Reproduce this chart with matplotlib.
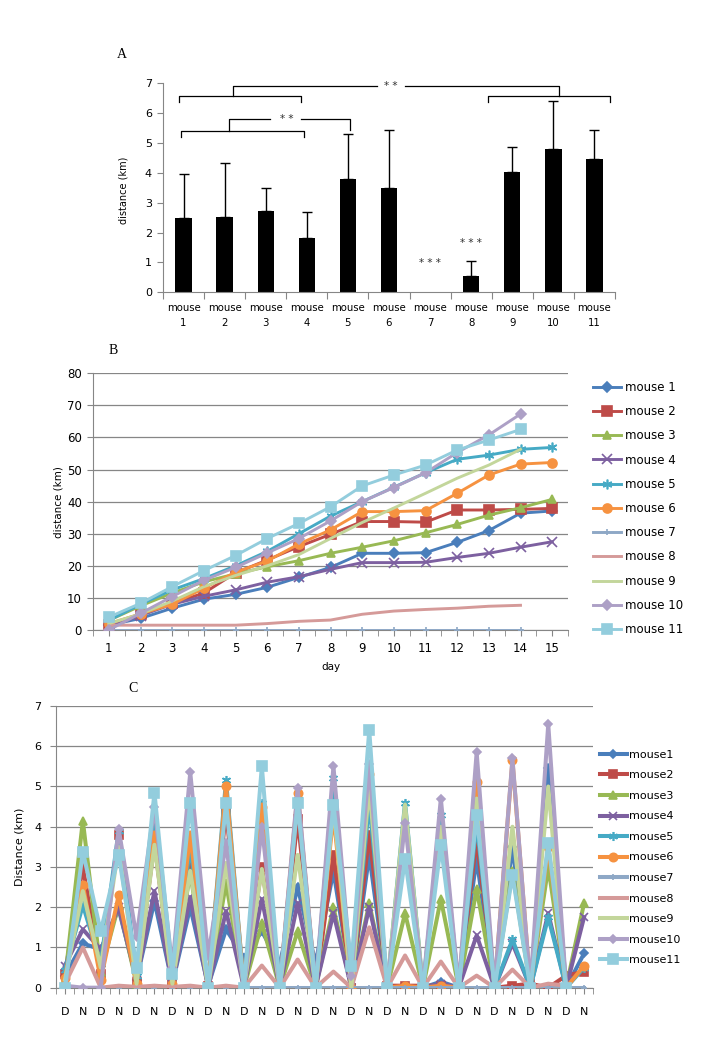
import numpy as np
import matplotlib
matplotlib.use("Agg")
import matplotlib.pyplot as plt

plt.rcParams['font.family'] = ['DejaVu Sans']
plt.rcParams['font.size'] = 8

# ---------------- data ----------------
# Panel A: mean daily distance per mouse with (upper) error
labels_A = ['mouse\n1', 'mouse\n2', 'mouse\n3', 'mouse\n4', 'mouse\n5', 'mouse\n6',
            'mouse\n7', 'mouse\n8', 'mouse\n9', 'mouse\n10', 'mouse\n11']
mean_A = [2.50, 2.53, 2.73, 1.82, 3.80, 3.50, 0.00, 0.55, 4.04, 4.80, 4.47]
err_A = [1.47, 1.80, 0.77, 0.88, 1.50, 1.93, 0.00, 0.49, 0.83, 1.60, 0.96]

# Panel B: cumulative distance by day
days_B = list(range(1, 16))
b_mouse1 = [1.5, 3.6, 6.8, 9.6, 11.1, 13.3, 16.4, 19.5, 23.9, 23.9, 24.1, 27.3, 31.0, 36.4, 37.1]
b_mouse2 = [1.5, 5.0, 8.3, 11.5, 17.8, 21.8, 26.0, 29.8, 33.8, 33.8, 33.6, 37.4, 37.4, 37.6, 37.9]
b_mouse3 = [3.0, 7.5, 11.5, 15.0, 17.5, 19.7, 21.6, 23.9, 25.8, 27.8, 30.3, 32.9, 35.8, 38.1, 40.7]
b_mouse4 = [1.0, 4.5, 8.0, 10.5, 12.5, 14.9, 16.6, 18.9, 21.0, 21.0, 21.1, 22.6, 23.9, 25.8, 27.5]
b_mouse5 = [3.0, 8.0, 12.5, 16.0, 20.0, 24.5, 30.0, 35.5, 40.0, 44.5, 49.0, 53.2, 54.5, 56.3, 56.9]
b_mouse6 = [2.0, 5.0, 8.0, 13.0, 18.0, 21.5, 26.8, 31.2, 36.9, 36.9, 37.2, 42.6, 48.3, 51.7, 52.2]
b_mouse7 = [0, 0, 0, 0, 0, 0, 0, 0, 0, 0, 0, 0, 0, 0]
b_mouse8 = [1.5, 1.5, 1.5, 1.5, 1.5, 2.0, 2.7, 3.1, 4.9, 5.9, 6.4, 6.8, 7.4, 7.7]
b_mouse9 = [2.0, 5.0, 9.0, 13.5, 17.0, 20.0, 23.5, 28.5, 33.5, 38.0, 42.6, 47.3, 51.4, 56.3]
b_mouse10 = [0.0, 5.2, 10.4, 15.5, 19.5, 24.0, 28.5, 34.0, 40.0, 44.4, 49.0, 55.3, 60.8, 67.3]
b_mouse11 = [4.0, 8.3, 13.5, 18.5, 23.2, 28.5, 33.2, 38.4, 44.9, 48.3, 51.4, 56.1, 59.2, 62.5]

# Panel C: day (D) / night (N) distance
labels_C = ['D', 'N'] * 15
nan = np.nan
c_mouse1 = [0.30, 1.10, 0.95, 1.95, 0.20, 2.15, 0.10, 2.00, 0.05, 1.45, 0.75, 1.40, 0.60, 2.50, 0.60,
            2.90, 0.10, 3.30, 0.00, 0.00, 0.00, 0.15, 0.00, 3.20, 0.00, 3.50, 0.00, 5.45, 0.00, 0.85]
c_mouse2 = [0.35, 3.00, 0.35, 3.80, 0.15, 3.60, 0.10, 3.25, 0.05, 4.40, 0.00, 3.00, 0.00, 4.20, 0.00,
            3.30, 0.00, 3.80, 0.05, 0.05, 0.05, 0.05, 0.00, 3.70, 0.00, 0.05, 0.10, 0.00, 0.30, 0.40]
c_mouse3 = [0.20, 4.15, 0.40, 2.05, 0.10, 3.70, 0.15, 2.85, 0.00, 2.60, 0.00, 1.60, 0.00, 1.40, 0.00,
            2.00, 0.00, 2.10, 0.00, 1.85, 0.00, 2.20, 0.00, 2.45, 0.00, 2.90, 0.00, 3.00, 0.00, 2.10]
c_mouse4 = [0.55, 1.45, 0.95, 2.00, 0.20, 2.40, 0.10, 2.25, 0.00, 1.90, 0.00, 2.20, 0.00, 2.10, 0.00,
            1.85, 0.00, 2.00, 0.00, 0.00, 0.00, 0.10, 0.00, 1.30, 0.00, 1.10, 0.00, 1.85, 0.00, 1.75]
c_mouse5 = [0.45, 2.05, 0.60, 3.90, 0.30, 4.00, 0.20, 3.50, 0.00, 5.15, 0.00, 4.60, 0.00, 4.70, 0.00,
            5.20, 0.00, 4.60, 0.00, 4.60, 0.00, 4.30, 0.00, 4.10, 0.00, 1.20, 0.00, 1.75, 0.00, 0.50]
c_mouse6 = [0.25, 2.55, 0.20, 2.30, 0.10, 3.80, 0.10, 3.80, 0.00, 5.00, 0.00, 4.50, 0.00, 4.85, 0.00,
            4.30, 0.00, 5.30, 0.00, 0.05, 0.00, 0.05, 0.00, 5.10, 0.00, 5.65, 0.00, 3.50, 0.00, 0.55]
c_mouse7 = [0.0] * 30
c_mouse8 = [0.10, 1.00, 0.00, 0.05, 0.02, 0.05, 0.02, 0.05, 0.00, 0.05, 0.00, 0.55, 0.00, 0.70, 0.00,
            0.40, 0.00, 1.50, 0.00, 0.80, 0.00, 0.65, 0.00, 0.30, 0.00, 0.45, 0.00, 0.10, 0.05, nan]
c_mouse9 = [0.20, 2.40, 0.50, 3.50, 0.10, 3.55, 0.10, 2.90, 0.00, 3.10, 0.00, 2.95, 0.00, 3.30, 0.00,
            4.50, 0.00, 5.00, 0.00, 4.55, 0.00, 4.00, 0.00, 4.70, 0.00, 4.00, 0.00, 5.00, 0.00, nan]
c_mouse10 = [0.05, 0.00, 0.00, 3.95, 1.25, 4.50, 0.50, 5.35, 0.80, 3.60, 0.00, 4.00, 0.00, 4.95, 0.00,
             5.50, 0.30, 5.55, 0.00, 4.10, 0.00, 4.70, 0.00, 5.85, 0.00, 5.70, 0.00, 6.55, 0.00, nan]
c_mouse11 = [0.00, 3.38, 1.40, 3.30, 0.50, 4.85, 0.35, 4.60, 0.00, 4.60, 0.00, 5.50, 0.00, 4.60, 0.00,
             4.55, 0.55, 6.40, 0.00, 3.20, 0.00, 3.55, 0.00, 4.30, 0.00, 2.80, 0.00, 3.60, 0.00, nan]

series_B = [b_mouse1, b_mouse2, b_mouse3, b_mouse4, b_mouse5, b_mouse6,
            b_mouse7, b_mouse8, b_mouse9, b_mouse10, b_mouse11]
series_C = [c_mouse1, c_mouse2, c_mouse3, c_mouse4, c_mouse5, c_mouse6,
            c_mouse7, c_mouse8, c_mouse9, c_mouse10, c_mouse11]
names_B = ['mouse %d' % i for i in range(1, 12)]
names_C = ['mouse%d' % i for i in range(1, 12)]

# ---------------- styles ----------------
colors = ['#4A7EBB', '#BE4B48', '#98B954', '#7D60A0', '#46AAC5', '#F69240',
          '#8EA8C6', '#D59A99', '#C3D69B', '#ADA0C6', '#93CDDD']
markers = ['D', 's', '^', 'x', (6, 2, 0), 'o', '+', 'None', 'None', 'D', 's']
msize_B = [5, 6.5, 6, 6.5, 7, 6.5, 4, 0, 0, 5, 7]
msize_C = [4.5, 6, 5.5, 6, 6.5, 6, 4, 0, 0, 4.5, 6.5]

W, H = 720, 1040
fig = plt.figure(figsize=(W / 100, H / 100), dpi=100)
grey = '#868686'

def fx(px):
    return px / W

def fy(py):
    return 1 - py / H

# ---------------- Panel A ----------------
axA = fig.add_axes([fx(163), fy(292.3), fx(615) - fx(163), fy(83.3) - fy(292.3)])
xA = np.arange(len(mean_A))
axA.bar(xA, mean_A, width=0.4, color='black', zorder=2)
m = np.array(err_A) > 0
axA.errorbar(xA[m], np.array(mean_A)[m], yerr=[np.zeros(m.sum()), np.array(err_A)[m]],
             fmt='none', ecolor='black', elinewidth=1.0, capsize=3.5, capthick=1.0, zorder=3)
axA.set_xlim(-0.5, 10.5)
axA.set_ylim(0, 7)
axA.set_yticks(range(0, 8))
axA.set_xticks(np.arange(-0.5, 11, 1))
axA.set_xticklabels([])
axA.set_xticks(xA, minor=True)
axA.set_xticklabels(labels_A, minor=True, fontsize=7.3, linespacing=1.6)
axA.tick_params(axis='x', which='minor', length=0, pad=8)
axA.tick_params(axis='x', which='major', length=5, color=grey, direction='out')
axA.tick_params(axis='y', length=4, color=grey, direction='out', pad=4, labelsize=8)
for s in ['top', 'right']:
    axA.spines[s].set_visible(False)
axA.spines['left'].set_color(grey)
axA.spines['bottom'].set_color(grey)
axA.set_ylabel('distance (km)', fontsize=7)
axA.yaxis.set_label_coords(-0.077, 0.49)

kw = dict(color='black', lw=0.9, clip_on=False, zorder=4)
# upper brackets (mice 1-4 vs mice 9-11)
axA.plot([-0.1, -0.1, 2.87, 2.87], [6.38, 6.58, 6.58, 6.38], **kw)
axA.plot([7.42, 7.42, 10.39, 10.39], [6.38, 6.58, 6.58, 6.38], **kw)
axA.plot([1.2, 1.2, 4.71], [6.58, 6.92, 6.92], **kw)
axA.plot([5.39, 9.13, 9.13], [6.92, 6.92, 6.58], **kw)
axA.text(5.05, 6.92, '* *', ha='center', va='center', fontsize=7.5, color='#333333')
# lower bracket (mice 1-4 vs mouse 5)
axA.plot([-0.06, -0.06, 2.93, 2.93], [5.21, 5.40, 5.40, 5.21], **kw)
axA.plot([1.1, 1.1, 2.1], [5.40, 5.79, 5.79], **kw)
axA.plot([2.87, 4.05, 4.05], [5.79, 5.79, 5.43], **kw)
axA.text(2.5, 5.79, '* *', ha='center', va='center', fontsize=7.5, color='#333333')
axA.text(6.0, 0.99, '* * *', ha='center', va='center', fontsize=7.5, color='#333333')
axA.text(7.0, 1.65, '* * *', ha='center', va='center', fontsize=7.5, color='#333333')

fig.text(fx(122), fy(55), 'A', family='Liberation Serif', fontsize=10, ha='center', va='center')

# ---------------- Panel B ----------------
axB = fig.add_axes([fx(93), fy(630), fx(568) - fx(93), fy(373.3) - fy(630)])
handles_B = []
for i, vals in enumerate(series_B):
    d = days_B[:len(vals)]
    ln, = axB.plot(d, vals, color=colors[i], lw=2.1, marker=markers[i], ms=msize_B[i],
                   mfc=colors[i], mec=colors[i], mew=1.2, zorder=3 + i * 0.01)
    handles_B.append(ln)
axB.set_xlim(0.54, 15.42)
axB.set_ylim(0, 80)
axB.set_yticks(range(0, 81, 10))
axB.set_xticks(days_B)
axB.set_xticks(np.arange(0.5, 15.6, 0.5), minor=True)
axB.yaxis.grid(True, color=grey, lw=0.9)
axB.set_axisbelow(True)
for s in ['top', 'right']:
    axB.spines[s].set_visible(False)
axB.spines['left'].set_color(grey)
axB.spines['bottom'].set_color(grey)
axB.tick_params(axis='both', which='both', length=4, color=grey, direction='out', labelsize=8.5)
axB.tick_params(axis='x', which='major', pad=5)
axB.tick_params(axis='y', pad=4)
axB.set_xlabel('day', fontsize=7.5, va='top')
axB.xaxis.set_label_coords(0.5, -0.125)
axB.set_ylabel('distance (km)', fontsize=7.5)
axB.yaxis.set_label_coords(-0.063, 0.5)
fig.legend(handles_B, names_B, loc='center left', bbox_to_anchor=(fx(593), fy(508.5)),
           frameon=False, fontsize=8.5, handlelength=2.4, handletextpad=0.3,
           labelspacing=0.95, borderpad=0, borderaxespad=0)
fig.text(fx(113), fy(350), 'B', family='Liberation Serif', fontsize=10, ha='center', va='center')

# ---------------- Panel C ----------------
axC = fig.add_axes([fx(56), fy(987.7), fx(593) - fx(56), fy(706) - fy(987.7)])
xC = np.arange(len(labels_C))
handles_C = []
for i, vals in enumerate(series_C):
    ln, = axC.plot(xC, vals, color=colors[i], lw=2.9, marker=markers[i], ms=msize_C[i],
                   mfc=colors[i], mec=colors[i], mew=1.2, zorder=3 + i * 0.01)
    handles_C.append(ln)
axC.set_xlim(-0.5, 29.4)
axC.set_ylim(0, 7)
axC.set_yticks(range(0, 8))
axC.set_xticks(xC)
axC.set_xticklabels(labels_C)
axC.set_xticks(np.arange(-0.5, 30, 1), minor=True)
axC.yaxis.grid(True, color=grey, lw=0.9)
axC.set_axisbelow(True)
for s in ['top', 'right']:
    axC.spines[s].set_visible(False)
axC.spines['left'].set_color(grey)
axC.spines['bottom'].set_color(grey)
axC.tick_params(axis='both', which='both', length=4, color=grey, direction='out', labelsize=8)
axC.tick_params(axis='x', which='major', pad=10)
axC.tick_params(axis='y', pad=6.5)
axC.set_ylabel('Distance (km)', fontsize=8)
axC.yaxis.set_label_coords(-0.058, 0.5)
fig.legend(handles_C, names_C, loc='center left', bbox_to_anchor=(fx(600), fy(857.5)),
           frameon=False, fontsize=8, handlelength=2.4, handletextpad=0.2,
           labelspacing=0.95, borderpad=0, borderaxespad=0)
fig.text(fx(133), fy(688), 'C', family='Liberation Serif', fontsize=10, ha='center', va='center')

fig.savefig('out.png', dpi=100)
